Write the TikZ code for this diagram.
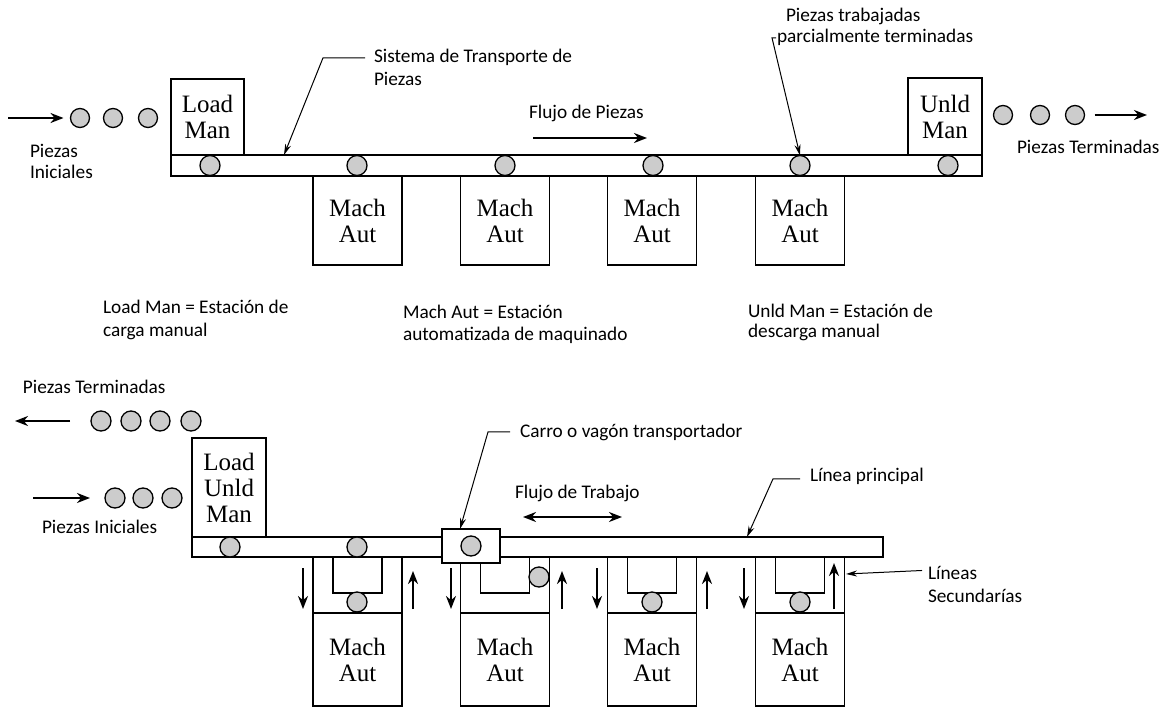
\documentclass[tikz,border=0pt]{standalone}
\usepackage{fontspec}
\setmainfont{Carlito}
\newfontfamily\boxfont{Liberation Serif}
\usetikzlibrary{arrows.meta}

\begin{document}
\begin{tikzpicture}[x=1pt,y=-1pt,
  every node/.style={inner sep=0pt, outer sep=0pt},
  belt/.style={draw, line width=1.3pt, fill=white, rectangle},
  stn/.style={draw, line width=1.3pt, fill=white, rectangle,
    font=\boxfont\fontsize{25}{26}\selectfont, align=center},
  part/.style={circle, draw, line width=1.3pt, fill=black!20, minimum size=20pt},
  lbl/.style={anchor=base west, font=\fontsize{19.3}{23}\selectfont},
  flow/.style={line width=2.2pt, -{Stealth[length=13pt,width=10pt]}},
  flow2/.style={line width=2.2pt, {Stealth[length=13pt,width=10pt]}-{Stealth[length=13pt,width=10pt]}},
  lead/.style={line width=1pt, -{Stealth[length=11pt,width=6pt]}},
]
\useasboundingbox (0,0) rectangle (1169,709);

% ---------- In-line transfer line ----------
\node[belt, minimum width=811pt, minimum height=21pt] (beltA) at (576.5,165.5) {};
\node[stn, minimum width=73pt, minimum height=76pt] (loadA) at (207.5,117) {Load\\Man};
\node[stn, minimum width=74pt, minimum height=77pt] (unldA) at (945,116.5) {Unld\\Man};
\foreach \i/\cx in {1/357.5,2/505,3/652,4/800}
  \node[stn, minimum width=89pt, minimum height=89pt] (machA\i) at (\cx,220.5) {Mach\\Aut};
\foreach \i/\cx in {1/210,2/357,3/505,4/653,5/800,6/948}
  \node[part] (pA\i) at (\cx,165.5) {};

% incoming and outgoing parts
\foreach \i/\cx in {1/80,2/113,3/148}
  \node[part, minimum size=19pt] (inA\i) at (\cx,118) {};
\foreach \i/\cx in {1/1003,2/1040,3/1075}
  \node[part, minimum size=19pt] (outA\i) at (\cx,115) {};
\coordinate (inAtail) at (8,118);
\draw[flow] (inAtail) -- ([xshift=-7pt]inA1.west);
\coordinate (outAtip) at (1147,115);
\draw[flow] ([xshift=10pt]outA3.east) -- (outAtip);

\node[lbl] (iniA1) at (30,157) {Piezas};
\node[lbl] (iniA2) at (30,178) {Iniciales};
\node[lbl] (finA) at (1017,153) {Piezas Terminadas};

\node[lbl] (sysT1) at (374,63) {Sistema de Transporte de};
\node[lbl] (sysT2) at (374,85) {Piezas};
\coordinate (sysTip) at (284,155);
\draw[lead] ([xshift=-9pt]sysT1.west) -- ++(-42,0) -- (sysTip);

\node[lbl] (flowA) at (529,118) {Flujo de Piezas};
\coordinate (flowAs) at (533,138);
\coordinate (flowAe) at (647,138);
\draw[flow] (flowAs) -- (flowAe);

\node[lbl] (wipT1) at (786,22) {Piezas trabajadas};
\node[lbl] (wipT2) at (777,43) {parcialmente terminadas};
\draw[lead] ([xshift=-1pt]wipT2.west) -- ++(-4,0) -- (pA5.north);

% legend
\node[lbl] (lgL1) at (103,313) {Load Man = Estación de};
\node[lbl] (lgL2) at (103,336) {carga manual};
\node[lbl] (lgM1) at (403,318) {Mach Aut = Estación};
\node[lbl] (lgM2) at (403,340) {automatizada de maquinado};
\node[lbl] (lgU1) at (748,317) {Unld Man = Estación de};
\node[lbl] (lgU2) at (748,337) {descarga manual};

% ---------- Line with side loops ----------
\node[belt, minimum width=691pt, minimum height=20pt] (beltB) at (537.5,547) {};
\node[stn, minimum width=74pt, minimum height=99pt] (lumB) at (229,487.5) {Load\\Unld\\Man};
\foreach \i/\cx in {1/357.5,2/505,3/652,4/800} {
  \node[belt, minimum width=89pt, minimum height=56pt] (sideB\i) at (\cx,585) {};
  \node[stn, minimum width=89pt, minimum height=93pt] (machB\i) at (\cx,659.5) {Mach\\Aut};
  \node[belt, minimum width=49pt, minimum height=36pt] (bayB\i) at (\cx,575) {};
}
\node[belt, minimum width=58pt, minimum height=34pt] (cartB) at (471,546) {};

\node[part] (pB1) at (230,547) {};
\node[part] (pB2) at (357,547) {};
\node[part] (pB3) at (471,546) {};
\node[part] (pB4) at (357,602) {};
\node[part] (pB5) at (539,577) {};
\node[part] (pB6) at (652,602) {};
\node[part] (pB7) at (800,602) {};

% side loop directions
\foreach \x in {303,451,597,744} {
  \coordinate (dnS\x) at (\x,568);
  \coordinate (dnE\x) at (\x,609);
  \draw[flow] (dnS\x) -- (dnE\x);
}
\foreach \x/\ys/\ye in {413/609/571,562/609/571,707/609/571,834/609/563} {
  \coordinate (upS\x) at (\x,\ys);
  \coordinate (upE\x) at (\x,\ye);
  \draw[flow] (upS\x) -- (upE\x);
}

% incoming and outgoing parts
\foreach \i/\cx in {1/101,2/131,3/160,4/191}
  \node[part] (outB\i) at (\cx,421) {};
\foreach \i/\cx in {1/115,2/143,3/172}
  \node[part] (inB\i) at (\cx,498) {};
\coordinate (outBtip) at (15,421);
\draw[flow] ([xshift=-21pt]outB1.west) -- (outBtip);
\coordinate (inBtail) at (33,498);
\draw[flow] (inBtail) -- ([xshift=-15pt]inB1.west);

\node[lbl] (finB) at (23,393) {Piezas Terminadas};
\node[lbl] (iniB) at (42,533) {Piezas Iniciales};

\node[lbl] (cartT) at (520,437) {Carro o vagón transportador};
\coordinate (cartTip) at (460,529);
\draw[lead] ([xshift=-10pt]cartT.west) -- ++(-22,0) -- (cartTip);

\node[lbl] (flowB) at (515,498) {Flujo de Trabajo};
\coordinate (flowBs) at (523,517);
\coordinate (flowBe) at (622,517);
\draw[flow2] (flowBs) -- (flowBe);

\node[lbl] (mainT) at (810,481) {Línea principal};
\coordinate (mainTip) at (747,537);
\draw[lead] ([xshift=-10pt,yshift=-3pt]mainT.west) -- ++(-27,0) -- (mainTip);

\node[lbl] (secT1) at (928,579) {Líneas};
\node[lbl] (secT2) at (928,602) {Secundarías};
\coordinate (secTip) at (846,574);
\draw[lead] ([xshift=-6pt,yshift=2pt]secT1.west) -- (secTip);
\end{tikzpicture}
\end{document}
